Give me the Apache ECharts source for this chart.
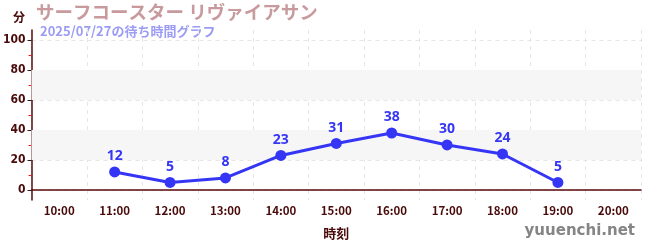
<!DOCTYPE html>
<html><head><meta charset="utf-8">
<script src="https://cdn.jsdelivr.net/npm/echarts@6/dist/echarts.min.js"></script>
<style>html,body{margin:0;padding:0;background:#fff}#c{width:650px;height:250px}</style>
</head><body><div id="c"></div>
<script>
const categories = ['10:00','11:00','12:00','13:00','14:00','15:00','16:00','17:00','18:00','19:00','20:00'];
const waitTimes = [null,12,5,8,23,31,38,30,24,5,null];
const yTickValues = [0,20,40,60,80,100];
const yMinorTickValues = [10,30,50,70,90];
const bandRanges = [[20,40],[60,80]];
const titleText = 'サーフコースター リヴァイアサン';
const subtitleText = '2025/07/27の待ち時間グラフ';
const yUnit = '分';
const xName = '時刻';
const credit = 'yuuenchi.net';

const axisColor = '#5a0a0a';
const labelColor = '#4a0a0a';
const jp = '"Noto Sans CJK JP", "Noto Sans", sans-serif';
const yMin = -6.7, yMax = 106.7;

const chart = echarts.init(document.getElementById('c'), null, {renderer:'canvas'});
chart.setOption({
  animation:false,
  backgroundColor:'#fff',
  graphic:[
    {type:'text', left:13, top:11, style:{text:yUnit, font:'bold 12px '+jp, fill:labelColor}},
    {type:'text', left:36, top:3, style:{text:titleText, font:'bold 18.5px '+jp, fill:'#c89a9d'}},
    {type:'text', left:40, top:25, style:{text:subtitleText, font:'bold 13px '+jp, fill:'#9c9cf5'}},
    {type:'text', right:15, top:224, style:{text:credit, font:'bold 15px "DejaVu Sans", sans-serif', fill:'#858585'}}
  ],
  grid:{left:30, right:9, top:30, bottom:50, containLabel:false},
  xAxis:{
    type:'category', data:categories, boundaryGap:true,
    name:xName, nameLocation:'middle', nameGap:27,
    nameTextStyle:{color:labelColor, fontSize:13, fontWeight:'bold', fontFamily:jp},
    axisLine:{lineStyle:{color:axisColor, width:1.5}},
    axisTick:{alignWithLabel:true, length:4, lineStyle:{color:'#333'}},
    axisLabel:{color:labelColor, fontSize:11.5, fontFamily:jp, fontWeight:'bold', margin:5},
    splitLine:{show:true, lineStyle:{color:'#e6e6e6', type:[4,4]}}
  },
  yAxis:[{
    type:'value', min:yMin, max:yMax,
    axisLine:{show:true, lineStyle:{color:axisColor, width:1.5}},
    axisTick:{show:true, length:4, customValues:yTickValues, lineStyle:{color:'#222'}},
    axisLabel:{customValues:yTickValues, color:labelColor, fontSize:12, fontFamily:'"DejaVu Sans Condensed", sans-serif', fontWeight:'bold', margin:6},
    splitLine:{show:true, lineStyle:{color:'#e6e6e6', type:[4,4]}}
  },{
    type:'value', min:yMin, max:yMax, position:'left',
    axisLine:{show:false},
    axisTick:{show:true, length:3, customValues:yMinorTickValues, lineStyle:{color:'#e02020'}},
    axisLabel:{show:false},
    splitLine:{show:false}
  }],
  series:[{
    type:'line', data:waitTimes, yAxisIndex:0,
    symbol:'circle', symbolSize:11, connectNulls:false,
    lineStyle:{color:'#3535f5', width:3},
    itemStyle:{color:'#3535f5'},
    label:{show:true, position:'top', distance:3, color:'#3535f5', fontSize:14, fontWeight:'bold', fontFamily:'"Noto Sans", sans-serif'},
    markArea:{silent:true, itemStyle:{color:'#f6f6f6'},
      data: bandRanges.map(r => [{yAxis:r[0]},{yAxis:r[1]}])},
    z:5
  }]
});
</script></body></html>
